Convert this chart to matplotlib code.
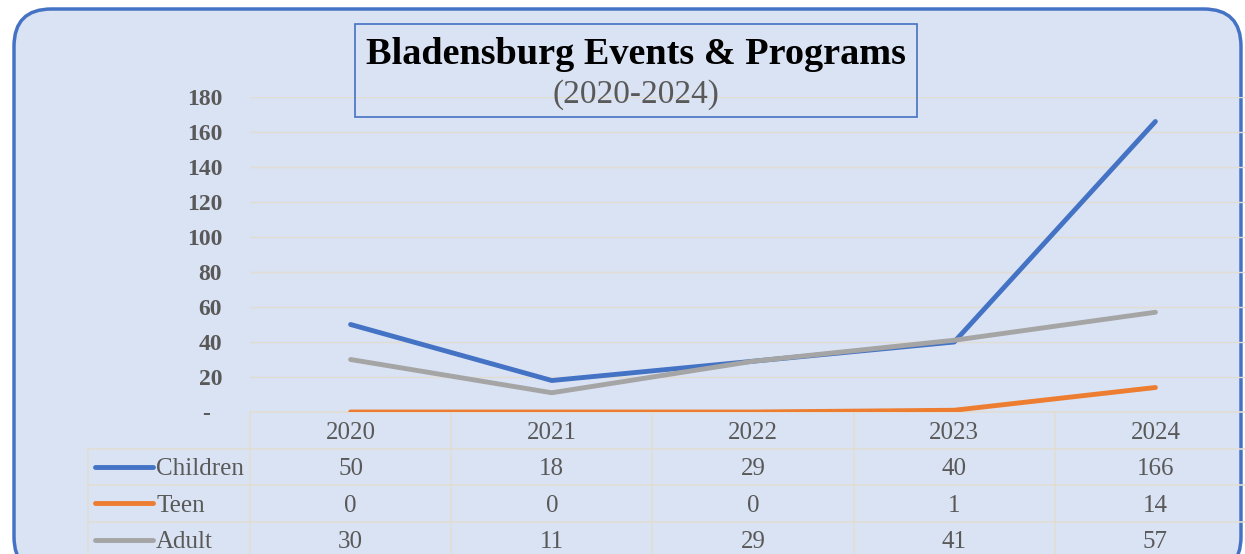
import numpy as np
import matplotlib.pyplot as plt
from matplotlib.patches import FancyBboxPatch, Rectangle
import matplotlib.transforms as mtransforms

years = ["2020", "2021", "2022", "2023", "2024"]
children = [50, 18, 29, 40, 166]
teen = [0, 0, 0, 1, 14]
adult = [30, 11, 29, 41, 57]
series_names = ["Children", "Teen", "Adult"]
series_colors = ["#4472C4", "#ED7D31", "#A5A5A5"]
yticks = [0, 20, 40, 60, 80, 100, 120, 140, 160, 180]
ytick_labels = ["-  "] + [str(v) for v in yticks[1:]]

W, H = 1245, 554
fig = plt.figure(figsize=(W / 100, H / 100), dpi=100)
fig.patch.set_facecolor("white")
plt.rcParams["font.family"] = ["Liberation Serif", "DejaVu Serif"]

bg = "#DAE3F3"
grid_c = "#E2DDD3"
txt_c = "#595959"

# rounded frame
frame = FancyBboxPatch((14 / W, -20 / H), (1241 - 14) / W, (545 + 20) / H,
                       boxstyle="round,pad=0,rounding_size=0.03",
                       transform=fig.transFigure, facecolor=bg,
                       edgecolor="#4472C4", linewidth=2.5, mutation_aspect=W / H,
                       zorder=-10)
fig.patches.append(frame)

ax = fig.add_axes([250 / W, (H - 412) / H, (1256 - 250) / W, 315 / H])
ax.set_facecolor("none")
x = np.arange(len(years))
for vals, c in zip([children, teen, adult], series_colors):
    ax.plot(x, vals, color=c, lw=3.5, solid_capstyle="round", zorder=3)

ax.set_xlim(-0.5, len(years) - 0.5)
ax.set_ylim(0, 180)
ax.set_yticks(yticks)
ax.set_yticklabels(ytick_labels, fontsize=17, fontweight="bold", color=txt_c)
ax.tick_params(axis="y", length=0, pad=20)
ax.set_xticks([])
for s in ax.spines.values():
    s.set_visible(False)
ax.yaxis.grid(True, color=grid_c, lw=1)
ax.set_axisbelow(True)

# data table below the axis
trans = mtransforms.blended_transform_factory(ax.transData, ax.transAxes)
row_h = 36.5 / 315
fs = 18
off = 2.5 / 315  # text sits a touch below row centre
ax.plot([-0.5, 4.5], [0, 0], transform=trans, color=grid_c, lw=1.2, clip_on=False)
for i, yr in enumerate(years):
    ax.text(i, -row_h / 2 - off, yr, transform=trans, ha="center", va="center",
            fontsize=fs, color=txt_c)
left_x = -0.5 - 162 / 201.2
for r, (name, vals, c) in enumerate(zip(series_names, [children, teen, adult], series_colors)):
    y_top = -row_h * (r + 1)
    ax.plot([left_x, 4.5], [y_top, y_top], transform=trans, color=grid_c, lw=1.2, clip_on=False)
    yc = y_top - row_h / 2
    ax.plot([left_x + 7 / 201.2, left_x + 65 / 201.2], [yc, yc], transform=trans,
            color=c, lw=3.5, solid_capstyle="round", clip_on=False)
    ax.text(left_x + 68 / 201.2, yc - off, name, transform=trans, ha="left", va="center",
            fontsize=fs, color=txt_c)
    for i, v in enumerate(vals):
        ax.text(i, yc - off, str(v), transform=trans, ha="center", va="center",
                fontsize=fs, color=txt_c)
for b in np.arange(-0.5, 5.0, 1.0):
    ax.plot([b, b], [0, -row_h * 4.2], transform=trans, color=grid_c, lw=1.2, clip_on=False)
ax.plot([left_x, left_x], [-row_h, -row_h * 4.2], transform=trans, color=grid_c, lw=1.2, clip_on=False)

# title box
fig.patches.append(Rectangle((355 / W, (H - 117) / H), (917 - 355) / W, (117 - 24) / H,
                             transform=fig.transFigure, facecolor="none",
                             edgecolor="#4472C4", lw=1.2))
fig.text(636 / W, (H - 54) / H, "Bladensburg Events & Programs", ha="center", va="center",
         fontsize=27.5, fontweight="bold", color="black")
fig.text(636 / W, (H - 95) / H, "(2020-2024)", ha="center", va="center",
         fontsize=24, color=txt_c)

fig.savefig("out.png", dpi=100)
